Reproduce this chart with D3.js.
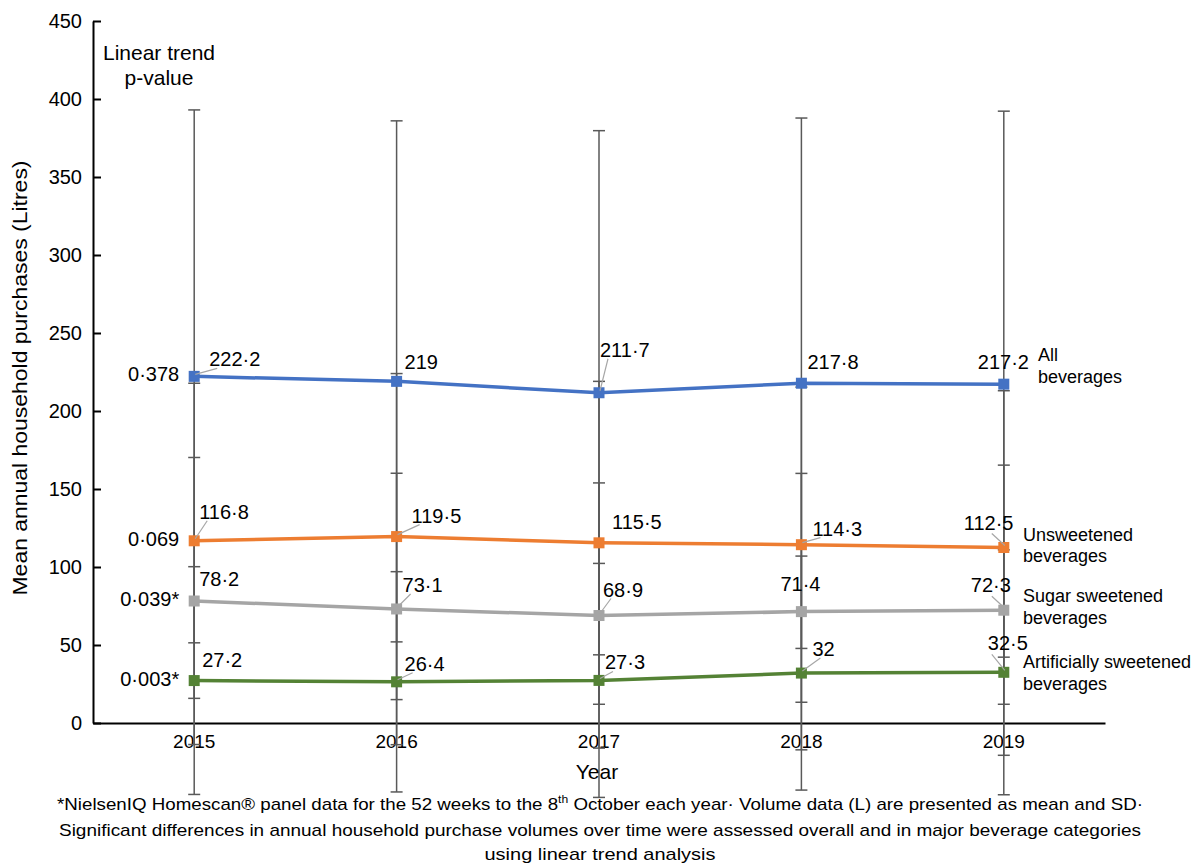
<!DOCTYPE html>
<html>
<head>
<meta charset="utf-8">
<script src="https://cdn.jsdelivr.net/npm/d3@7"></script>
<style>
  body { margin: 0; background: #fff; }
  svg { font-family: "Liberation Sans", Arial, sans-serif; }
</style>
</head>
<body>
<div class="container"></div>
<script>
const years = ["2015", "2016", "2017", "2018", "2019"];
const seriesNames = ["All beverages", "Unsweetened beverages", "Sugar sweetened beverages", "Artificially sweetened beverages"];
const allBev = [222.2, 219, 211.7, 217.8, 217.2];
const unsweetened = [116.8, 119.5, 115.5, 114.3, 112.5];
const sugarSweet = [78.2, 73.1, 68.9, 71.4, 72.3];
const artSweet = [27.2, 26.4, 27.3, 32, 32.5];
const allBevSD = [170.8, 167, 168, 170, 175];
const unsweetenedSD = [101, 104.5, 103.5, 101, 100.5];
const sugarSweetSD = [92, 87, 85, 88.6, 93];
const artSweetSD = [73, 70.6, 75, 75, 78.5];
const pValues = ["0·378", "0·069", "0·039*", "0·003*"];
const yTicks = [0, 50, 100, 150, 200, 250, 300, 350, 400, 450];

const width = 1202, height = 864;
const margin = { left: 93, right: 97, top: 21, bottom: 141 };

const colors = ["#4472C4", "#ED7D31", "#A5A5A5", "#548235"];
const series = [allBev, unsweetened, sugarSweet, artSweet];
const sds = [allBevSD, unsweetenedSD, sugarSweetSD, artSweetSD];

// label placement relative to each point: [dx, dy, leader]
const labelPos = [
  [[15, -10, 1], [8, -12, 0], [1, -36, 1], [6, -14, 0], [-26, -15, 0]],
  [[5, -22, 1], [15, -14, 1], [13, -14, 0], [11, -9, 1], [-40, -18, 1]],
  [[5, -15, 0], [6, -17, 1], [4, -19, 1], [-21, -21, 0], [-33, -18, 1]],
  [[8, -14, 0], [8, -11, 1], [6, -11, 1], [11, -17, 1], [-16, -22, 1]]
];
const nameLines = [["All", "beverages"], ["Unsweetened", "beverages"], ["Sugar sweetened", "beverages"], ["Artificially sweetened", "beverages"]];
const nameX = [1038, 1023, 1023, 1023];
const nameY = [-23, -7, -8, -4];

const svg = d3.select(".container").append("svg")
  .attr("width", width).attr("height", height);

const x = d3.scaleBand().domain(years).range([margin.left, width - margin.right]);
const y = d3.scaleLinear().domain([0, 450]).range([height - margin.bottom, margin.top]);
const cx = d => x(d) + x.bandwidth() / 2;

// axes
const yAxis = svg.append("g")
  .attr("transform", `translate(${margin.left},0)`)
  .call(d3.axisLeft(y).tickValues(yTicks).tickSizeInner(-8).tickSizeOuter(0).tickPadding(11));
yAxis.select(".domain").attr("stroke", "#000").attr("stroke-width", 2);
yAxis.selectAll(".tick line").attr("stroke", "#000").attr("stroke-width", 2);
yAxis.selectAll(".tick text").attr("font-size", 20).attr("fill", "#000")
  .attr("font-family", "Liberation Sans, Arial, sans-serif");

const xAxis = svg.append("g")
  .attr("transform", `translate(0,${y(0)})`)
  .call(d3.axisBottom(x).tickSize(0).tickPadding(12));
xAxis.select(".domain").attr("stroke", "#000").attr("stroke-width", 2);
xAxis.selectAll(".tick text").attr("font-size", 19).attr("fill", "#000")
  .attr("font-family", "Liberation Sans, Arial, sans-serif");

// error bars
const eb = svg.append("g").attr("stroke", "#595959").attr("stroke-width", 1.5);
series.forEach((vals, s) => {
  vals.forEach((v, i) => {
    const xx = cx(years[i]);
    const lo = y(v - sds[s][i]), hi = y(v + sds[s][i]);
    eb.append("line").attr("x1", xx).attr("x2", xx).attr("y1", lo).attr("y2", hi);
    eb.append("line").attr("x1", xx - 6).attr("x2", xx + 6).attr("y1", lo).attr("y2", lo);
    eb.append("line").attr("x1", xx - 6).attr("x2", xx + 6).attr("y1", hi).attr("y2", hi);
  });
});

// lines and markers
const line = d3.line().x((d, i) => cx(years[i])).y(d => y(d));
series.forEach((vals, s) => {
  svg.append("path").datum(vals)
    .attr("d", line).attr("fill", "none")
    .attr("stroke", colors[s]).attr("stroke-width", 3.5);
  svg.append("g").selectAll("rect").data(vals).enter().append("rect")
    .attr("x", (d, i) => cx(years[i]) - 5.5)
    .attr("y", d => y(d) - 5.5)
    .attr("width", 11).attr("height", 11)
    .attr("fill", colors[s]);
});

// data labels with leader lines
const fmt = v => String(v).replace(".", "·");
series.forEach((vals, s) => {
  vals.forEach((v, i) => {
    const px = cx(years[i]), py = y(v);
    const [dx, dy, leader] = labelPos[s][i];
    if (leader) {
      const tx = dx > 0 ? px + dx + 8 : px - 12;
      const ty = py + dy + (dx > 0 ? 2 : 4);
      svg.append("line").attr("x1", px + 1).attr("y1", py - 2)
        .attr("x2", tx).attr("y2", ty)
        .attr("stroke", "#A6A6A6").attr("stroke-width", 1.2);
    }
    svg.append("text").attr("x", px + dx).attr("y", py + dy)
      .attr("font-size", 20).attr("fill", "#000").text(fmt(v));
  });
});

// p-values
series.forEach((vals, s) => {
  svg.append("text").attr("x", cx(years[0]) - 15).attr("y", y(vals[0]) + 5)
    .attr("text-anchor", "end").attr("font-size", 20).attr("fill", "#000")
    .text(pValues[s]);
});

svg.append("text").attr("x", 159).attr("y", 60).attr("text-anchor", "middle")
  .attr("font-size", 21).text("Linear trend");
svg.append("text").attr("x", 159).attr("y", 85).attr("text-anchor", "middle")
  .attr("font-size", 21).text("p-value");

// series names on the right
series.forEach((vals, s) => {
  const t = svg.append("text").attr("x", nameX[s]).attr("y", y(vals[4]) + nameY[s])
    .attr("font-size", 18).attr("fill", "#000");
  nameLines[s].forEach((ln, k) => {
    t.append("tspan").attr("x", nameX[s]).attr("dy", k === 0 ? 0 : 21.5).text(ln);
  });
});

// axis titles
svg.append("text").attr("transform", `translate(27,${(margin.top + y(0)) / 2 + 6}) rotate(-90)`)
  .attr("text-anchor", "middle").attr("font-size", 21)
  .attr("textLength", 435).attr("lengthAdjust", "spacingAndGlyphs")
  .text("Mean annual household purchases (Litres)");
svg.append("text").attr("x", 597).attr("y", 779).attr("text-anchor", "middle")
  .attr("font-size", 21).text("Year");

// footnote
const foot = svg.append("g").attr("font-family", "Liberation Sans, Arial, sans-serif")
  .attr("font-size", 17).attr("text-anchor", "middle").attr("fill", "#000");
const f1 = foot.append("text").attr("x", 600).attr("y", 810)
  .attr("textLength", 1086).attr("lengthAdjust", "spacingAndGlyphs");
f1.append("tspan").text("*NielsenIQ Homescan® panel data for the 52 weeks to the 8");
f1.append("tspan").attr("dy", -7).attr("font-size", 11).text("th");
f1.append("tspan").attr("dy", 7).text(" October each year· Volume data (L) are presented as mean and SD·");
foot.append("text").attr("x", 600).attr("y", 836)
  .attr("textLength", 1082).attr("lengthAdjust", "spacingAndGlyphs")
  .text("Significant differences in annual household purchase volumes over time were assessed overall and in major beverage categories");
foot.append("text").attr("x", 600).attr("y", 860)
  .attr("textLength", 231).attr("lengthAdjust", "spacingAndGlyphs")
  .text("using linear trend analysis");
</script>
</body>
</html>
